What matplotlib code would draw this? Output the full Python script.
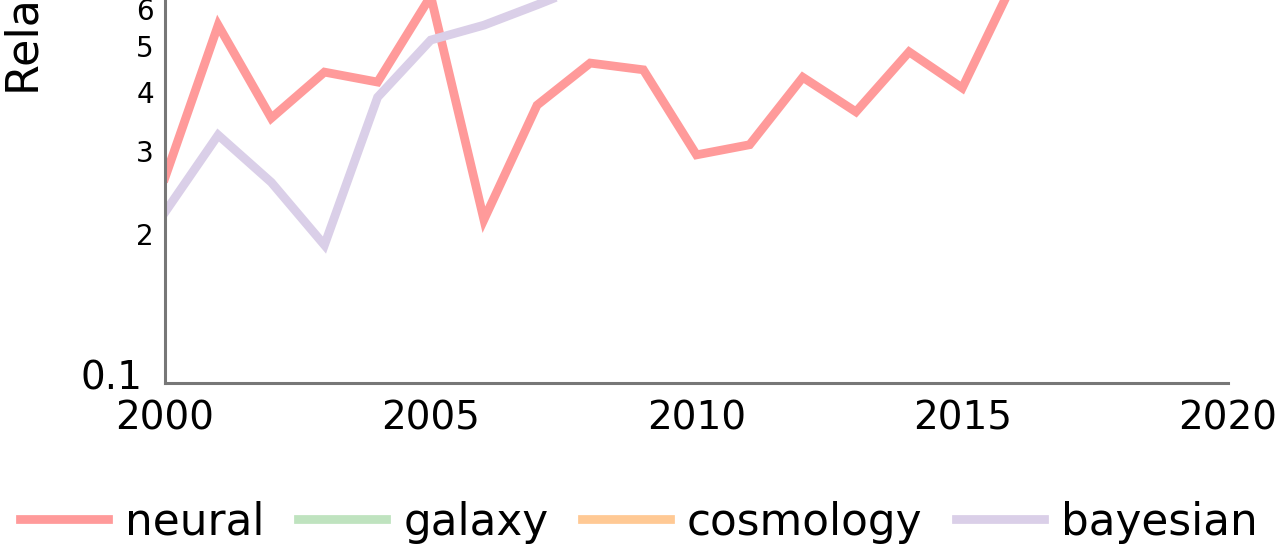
import matplotlib
matplotlib.use("Agg")
import matplotlib.pyplot as plt
import matplotlib.ticker as ticker

# values (log y axis); galaxy / cosmology lie outside the visible crop
years_neural = [2000, 2001, 2002, 2003, 2004, 2005, 2006, 2007, 2008,
                2009, 2010, 2011, 2012, 2013, 2014, 2015, 2016]
neural = [2.63, 5.55, 3.52, 4.41, 4.2, 6.4, 2.14, 3.75, 4.61,
          4.46, 2.94, 3.09, 4.3, 3.63, 4.87, 4.08, 7.0]

years_bayesian = [2000, 2001, 2002, 2003, 2004, 2005, 2006, 2007, 2008]
bayesian = [2.22, 3.24, 2.57, 1.89, 3.9, 5.16, 5.55, 6.13, 6.8]

years_galaxy, galaxy = [], []
years_cosmology, cosmology = [], []

x_ticks = [2000, 2005, 2010, 2015, 2020]
colors = {"neural": "#ff9a9a", "galaxy": "#bfe3bf",
          "cosmology": "#ffc994", "bayesian": "#dacfe8"}

W, H = 1280, 549
fig = plt.figure(figsize=(W / 100, H / 100), dpi=100)

# axes runs past the top of the figure (the reference is a crop)
left, right, bottom, top = 165, 1228, 383, -400
ax = fig.add_axes([left / W, 1 - bottom / H, (right - left) / W, (bottom - top) / H])

lw = 6.3
ax.plot(years_neural, neural, color=colors["neural"], lw=lw, label="neural", solid_joinstyle="miter")
ax.plot(years_galaxy, galaxy, color=colors["galaxy"], lw=lw, label="galaxy")
ax.plot(years_cosmology, cosmology, color=colors["cosmology"], lw=lw, label="cosmology")
ax.plot(years_bayesian, bayesian, color=colors["bayesian"], lw=lw, label="bayesian", solid_joinstyle="miter")

ax.set_yscale("log")
# 470 px per decade, value 1 sits 8 px above the bottom spine
ax.set_ylim(10 ** (-8 / 470), 10 ** ((375 - top) / 470))
ax.set_xlim(2000, 2020)

ax.yaxis.set_major_locator(ticker.FixedLocator([1]))
ax.yaxis.set_major_formatter(ticker.FixedFormatter(["0.1"]))
ax.yaxis.set_minor_locator(ticker.FixedLocator([2, 3, 4, 5, 6]))
ax.yaxis.set_minor_formatter(ticker.FixedFormatter(["2", "3", "4", "5", "6"]))
ax.tick_params(axis="y", which="major", length=0, labelsize=28, pad=16)
ax.tick_params(axis="y", which="minor", length=0, labelsize=20, pad=8)

ax.set_xticks(x_ticks)
ax.tick_params(axis="x", length=0, labelsize=28, pad=12)

for s in ["top", "right"]:
    ax.spines[s].set_visible(False)
for s in ["left", "bottom"]:
    ax.spines[s].set_color("#777777")
    ax.spines[s].set_linewidth(2.2)

fig.text(27 / W, 1 - 95 / H, "Relative frequency", rotation=90,
         ha="center", va="bottom", fontsize=32)

fig.legend(loc="center left", bbox_to_anchor=(20 / W, 1 - 522 / H), ncol=4,
           frameon=False, fontsize=31.5, handlelength=2.0, handletextpad=0.4,
           columnspacing=0.77, borderpad=0, borderaxespad=0)

fig.savefig("out.png", dpi=100)
